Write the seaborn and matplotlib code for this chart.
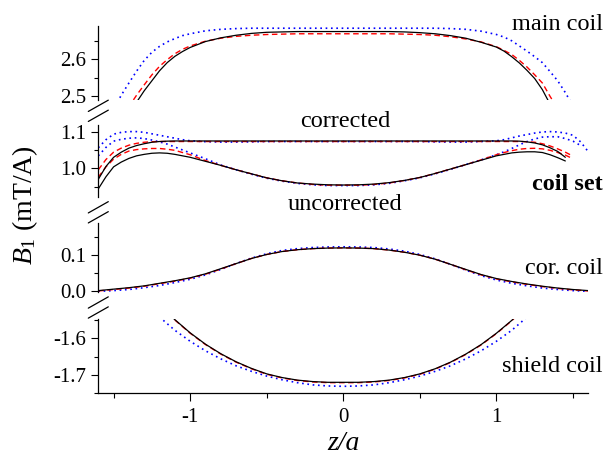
import numpy as np
import pandas as pd
import seaborn as sns
import matplotlib
matplotlib.use("Agg")
import matplotlib.pyplot as plt
from matplotlib.ticker import MultipleLocator, FormatStrFormatter
from matplotlib.lines import Line2D

# ---------------- data ----------------
z_main = [-1.6, -1.55, -1.5, -1.45, -1.4, -1.35, -1.3, -1.25, -1.2, -1.15, -1.1, -1.05, -1.0,
          -0.9, -0.8, -0.7, -0.6, -0.5, -0.4, -0.3, -0.2, -0.1, 0.0, 0.1, 0.2, 0.3, 0.4, 0.5,
          0.6, 0.7, 0.8, 0.9,
          1.0, 1.05, 1.1, 1.15, 1.2, 1.25, 1.3, 1.35, 1.4, 1.45, 1.5, 1.55, 1.6]

main_black = [2.29, 2.33, 2.37, 2.41, 2.45, 2.484, 2.515, 2.542, 2.569, 2.591, 2.608, 2.621, 2.632,
              2.648, 2.658, 2.665, 2.670, 2.673, 2.674, 2.675, 2.675, 2.675, 2.675, 2.675, 2.675,
              2.675, 2.674, 2.672, 2.669, 2.664, 2.657, 2.646,
              2.633, 2.622, 2.607, 2.590, 2.570, 2.548, 2.518, 2.479, 2.44, 2.40, 2.36, 2.32, 2.28]
main_red = [2.32, 2.36, 2.40, 2.44, 2.472, 2.503, 2.531, 2.558, 2.581, 2.599, 2.615, 2.627, 2.636,
            2.649, 2.657, 2.662, 2.665, 2.667, 2.668, 2.669, 2.669, 2.669, 2.669, 2.669, 2.669,
            2.669, 2.668, 2.667, 2.665, 2.661, 2.655, 2.647,
            2.634, 2.624, 2.613, 2.597, 2.579, 2.558, 2.536, 2.500, 2.467, 2.43, 2.39, 2.35, 2.31]
main_blue = [2.38, 2.42, 2.465, 2.503, 2.536, 2.568, 2.597, 2.619, 2.635, 2.647, 2.656, 2.664, 2.669,
             2.677, 2.681, 2.683, 2.684, 2.684, 2.684, 2.684, 2.684, 2.684, 2.684, 2.684, 2.684,
             2.684, 2.684, 2.684, 2.684, 2.683, 2.681, 2.676,
             2.667, 2.660, 2.650, 2.636, 2.622, 2.607, 2.591, 2.567, 2.542, 2.510, 2.474, 2.43, 2.39]

z_set = z_main
nan = np.nan
set_black_cor = [0.970, 1.005, 1.030, 1.044, 1.055, 1.062, 1.067, 1.071, 1.073, 1.074, 1.0745, 1.0745, 1.0745,
                 1.0745, 1.0745, 1.0745, 1.0745, 1.0745, 1.0745, 1.0745, 1.0745, 1.0745, 1.0745, 1.0745, 1.0745,
                 1.0745, 1.0745, 1.0745, 1.0745, 1.0745, 1.0745, 1.0745,
                 1.0745, 1.0745, 1.0745, 1.074, 1.072, 1.069, 1.064, 1.056, 1.046, 1.030, nan, nan, nan]
set_red_cor = [0.996, 1.024, 1.044, 1.055, 1.063, 1.068, 1.071, 1.0725, 1.073, 1.073, 1.073, 1.073, 1.073,
               1.073, 1.073, 1.073, 1.073, 1.073, 1.073, 1.073, 1.073, 1.073, 1.073, 1.073, 1.073,
               1.073, 1.073, 1.073, 1.073, 1.073, 1.073, 1.073,
               1.073, 1.073, 1.073, 1.073, 1.0725, 1.071, 1.067, 1.061, 1.053, 1.044, 1.033, nan, nan]
set_blue_cor = [1.056, 1.078, 1.093, 1.098, 1.100, 1.100, 1.098, 1.094, 1.090, 1.086, 1.082, 1.078, 1.075,
                1.0725, 1.0715, 1.0715, 1.072, 1.073, 1.073, 1.073, 1.073, 1.073, 1.073, 1.073, 1.073,
                1.073, 1.073, 1.073, 1.072, 1.0715, 1.0715, 1.073,
                1.075, 1.078, 1.083, 1.088, 1.092, 1.096, 1.099, 1.100, 1.099, 1.096, 1.090, 1.072, 1.045]
set_black_unc = [0.944, 0.977, 1.004, 1.017, 1.027, 1.034, 1.038, 1.041, 1.042, 1.041, 1.038, 1.034, 1.030,
                 1.019, 1.008, 0.996, 0.985, 0.974, 0.966, 0.960, 0.957, 0.955, 0.9545, 0.955, 0.957,
                 0.961, 0.967, 0.975, 0.986, 0.998, 1.010, 1.022,
                 1.034, 1.038, 1.042, 1.044, 1.045, 1.045, 1.043, 1.037, 1.029, 1.020, nan, nan, nan]
set_red_unc = [0.976, 1.004, 1.025, 1.038, 1.047, 1.051, 1.053, 1.054, 1.054, 1.052, 1.049, 1.043, 1.037,
               1.021, 1.008, 0.996, 0.985, 0.974, 0.966, 0.960, 0.956, 0.954, 0.954, 0.954, 0.956,
               0.960, 0.967, 0.975, 0.986, 0.998, 1.010, 1.023,
               1.037, 1.043, 1.048, 1.052, 1.054, 1.0545, 1.053, 1.049, 1.043, 1.036, 1.026, nan, nan]
set_blue_unc = [1.034, 1.057, 1.074, 1.079, 1.082, 1.083, 1.081, 1.077, 1.072, 1.066, 1.058, 1.050, 1.042,
                1.026, 1.009, 0.996, 0.984, 0.973, 0.965, 0.959, 0.955, 0.953, 0.953, 0.953, 0.955,
                0.959, 0.966, 0.974, 0.985, 0.997, 1.010, 1.023,
                1.037, 1.045, 1.054, 1.064, 1.073, 1.080, 1.085, 1.086, 1.086, 1.081, 1.074, 1.062, nan]

z_cor = [-1.6, -1.5, -1.4, -1.3, -1.2, -1.1, -1.0, -0.9, -0.8, -0.7, -0.6, -0.5, -0.4, -0.3, -0.2, -0.1,
         0.0, 0.1, 0.2, 0.3, 0.4, 0.5, 0.6, 0.7, 0.8, 0.9, 1.0, 1.1, 1.2, 1.3, 1.4, 1.5, 1.6]
cor_black = [0.002, 0.006, 0.010, 0.015, 0.022, 0.029, 0.037, 0.048, 0.062, 0.076, 0.090, 0.101, 0.109,
             0.114, 0.117, 0.1185, 0.119, 0.1185, 0.117, 0.113, 0.107, 0.099, 0.088, 0.074, 0.060,
             0.046, 0.035, 0.027, 0.020, 0.014, 0.009, 0.005, 0.002]
cor_red = [0.001, 0.005, 0.009, 0.014, 0.021, 0.028, 0.036, 0.047, 0.061, 0.076, 0.090, 0.101, 0.109,
           0.114, 0.117, 0.1185, 0.119, 0.1185, 0.117, 0.113, 0.107, 0.099, 0.088, 0.074, 0.059,
           0.045, 0.034, 0.026, 0.019, 0.013, 0.008, 0.004, 0.001]
cor_blue = [0.000, 0.002, 0.005, 0.010, 0.016, 0.024, 0.033, 0.045, 0.060, 0.076, 0.091, 0.103, 0.112,
            0.117, 0.120, 0.1215, 0.122, 0.1215, 0.120, 0.116, 0.110, 0.101, 0.089, 0.074, 0.058,
            0.043, 0.031, 0.022, 0.015, 0.009, 0.005, 0.002, 0.000]

z_shield = [-1.3, -1.2, -1.1, -1.0, -0.9, -0.8, -0.7, -0.6, -0.5, -0.4, -0.3, -0.2, -0.1, 0.0,
            0.1, 0.2, 0.3, 0.4, 0.5, 0.6, 0.7, 0.8, 0.9, 1.0, 1.1, 1.2, 1.3]
shield_black = [-1.46, -1.51, -1.549, -1.585, -1.616, -1.642, -1.664, -1.682, -1.697, -1.707, -1.714,
                -1.718, -1.720, -1.720, -1.720, -1.718, -1.714, -1.707, -1.697, -1.683, -1.665, -1.643,
                -1.617, -1.586, -1.551, -1.51, -1.46]
shield_red = [-1.46, -1.511, -1.550, -1.586, -1.617, -1.643, -1.665, -1.683, -1.698, -1.708, -1.715,
              -1.719, -1.721, -1.721, -1.721, -1.719, -1.715, -1.708, -1.698, -1.684, -1.666, -1.644,
              -1.618, -1.587, -1.552, -1.511, -1.46]
shield_blue = [-1.50, -1.542, -1.578, -1.608, -1.634, -1.656, -1.675, -1.690, -1.703, -1.713, -1.721,
               -1.727, -1.730, -1.731, -1.730, -1.727, -1.721, -1.713, -1.703, -1.690, -1.675, -1.656,
               -1.634, -1.608, -1.578, -1.542, -1.50]

y_ticks = [[2.5, 2.6], [1.0, 1.1], [0.0, 0.1], [-1.7, -1.6]]
x_ticks = [-1, 0, 1]
labels = ["main coil", "corrected", "coil set", "uncorrected", "cor. coil", "shield coil"]

# ---------------- style ----------------
sns.set_style("ticks")
plt.rcParams["font.family"] = ["Liberation Serif", "DejaVu Serif"]
plt.rcParams["mathtext.fontset"] = "custom"
plt.rcParams["mathtext.rm"] = "Liberation Serif"
plt.rcParams["mathtext.it"] = "Liberation Serif:italic"
plt.rcParams["axes.unicode_minus"] = False
plt.rcParams["text.color"] = "black"
plt.rcParams["axes.labelcolor"] = "black"
plt.rcParams["xtick.color"] = "black"
plt.rcParams["ytick.color"] = "black"
plt.rcParams["axes.edgecolor"] = "black"

W, H = 605, 455
fig = plt.figure(figsize=(W / 100, H / 100), dpi=100)
fig.patch.set_facecolor("white")

LEFT, RIGHT = 98.3, 588.3
panels_px = [(26, 100), (125, 197.3), (222.7, 291.7), (319.3, 393.3)]
ylims = [(2.49, 2.69), (0.921, 1.118), (-0.001, 0.188), (-1.75, -1.548)]

styles = {
    "black": dict(color="black", linewidth=0.9, linestyle="-"),
    "red": dict(color="red", linewidth=1.0, linestyle=(0, (4, 2.5))),
    "blue": dict(color="blue", linewidth=1.2, linestyle=(0, (1, 2.2))),
}

axes = []
for (top, bot) in panels_px:
    ax = fig.add_axes([LEFT / W, 1 - bot / H, (RIGHT - LEFT) / W, (bot - top) / H])
    ax.set_facecolor("none")
    axes.append(ax)


def draw(ax, z, vals, key):
    df = pd.DataFrame({"z": z, "B": vals}).dropna()
    sns.lineplot(data=df, x="z", y="B", ax=ax, estimator=None, sort=False, **styles[key])


draw(axes[0], z_main, main_blue, "blue")
draw(axes[0], z_main, main_red, "red")
draw(axes[0], z_main, main_black, "black")

draw(axes[1], z_set, set_blue_cor, "blue")
draw(axes[1], z_set, set_blue_unc, "blue")
draw(axes[1], z_set, set_red_cor, "red")
draw(axes[1], z_set, set_red_unc, "red")
draw(axes[1], z_set, set_black_cor, "black")
draw(axes[1], z_set, set_black_unc, "black")

draw(axes[2], z_cor, cor_blue, "blue")
draw(axes[2], z_cor, cor_red, "red")
draw(axes[2], z_cor, cor_black, "black")

draw(axes[3], z_shield, shield_blue, "blue")
draw(axes[3], z_shield, shield_red, "red")
draw(axes[3], z_shield, shield_black, "black")

TICK_FS = 15
for i, ax in enumerate(axes):
    ax.set_xlim(-1.6, 1.6)
    ax.set_ylim(*ylims[i])
    ax.set_xlabel("")
    ax.set_ylabel("")
    for s in ["top", "right"]:
        ax.spines[s].set_visible(False)
    ax.spines["left"].set_linewidth(0.9)
    ax.spines["bottom"].set_linewidth(0.9)
    ax.yaxis.set_major_locator(matplotlib.ticker.FixedLocator(y_ticks[i]))
    ax.yaxis.set_minor_locator(MultipleLocator(0.05))
    ax.yaxis.set_major_formatter(FormatStrFormatter("%.1f"))
    ax.tick_params(axis="y", which="major", direction="out", length=5, width=0.8,
                   labelsize=TICK_FS, pad=3.5, colors="black")
    ax.tick_params(axis="y", which="minor", direction="out", length=3, width=0.8, colors="black")
    if i < 3:
        ax.spines["bottom"].set_visible(False)
        ax.tick_params(axis="x", which="both", bottom=False, labelbottom=False)
    else:
        ax.xaxis.set_major_locator(matplotlib.ticker.FixedLocator(x_ticks))
        ax.xaxis.set_minor_locator(MultipleLocator(0.5))
        ax.xaxis.set_major_formatter(FormatStrFormatter("%d"))
        ax.tick_params(axis="x", which="major", direction="out", length=5.5, width=0.8,
                       labelsize=TICK_FS, pad=5, colors="black")
        ax.tick_params(axis="x", which="minor", direction="out", length=3.5, width=0.8, colors="black")

# axis break marks
for cy in (110.8, 212.3, 307.5):
    for off in (-5, 5):
        x0, x1 = LEFT - 10, LEFT + 10
        y0, y1 = cy + off + 5.65, cy + off - 5.65
        fig.add_artist(Line2D([x0 / W, x1 / W], [1 - y0 / H, 1 - y1 / H],
                              color="black", linewidth=0.9))

# labels
fig.text(343.3 / W, 1 - 450 / H, "z/a", ha="center", va="baseline", fontsize=20, style="italic")
fig.text(25 / W, 1 - 205 / H, r"$B_1$ (mT/A)", rotation=90, ha="center", va="center", fontsize=20)

fs = 17.5
fig.text(0.996, 1 - 30 / H, labels[0], ha="right", va="baseline", fontsize=fs)
fig.text(345 / W, 1 - 126.7 / H, labels[1], ha="center", va="baseline", fontsize=fs)
fig.text(0.996, 1 - 190 / H, labels[2], ha="right", va="baseline", fontsize=fs, fontweight="bold")
fig.text(345 / W, 1 - 210 / H, labels[3], ha="center", va="baseline", fontsize=fs)
fig.text(0.996, 1 - 274 / H, labels[4], ha="right", va="baseline", fontsize=fs)
fig.text(0.996, 1 - 371.7 / H, labels[5], ha="right", va="baseline", fontsize=fs)

fig.savefig("out.png", dpi=100)
